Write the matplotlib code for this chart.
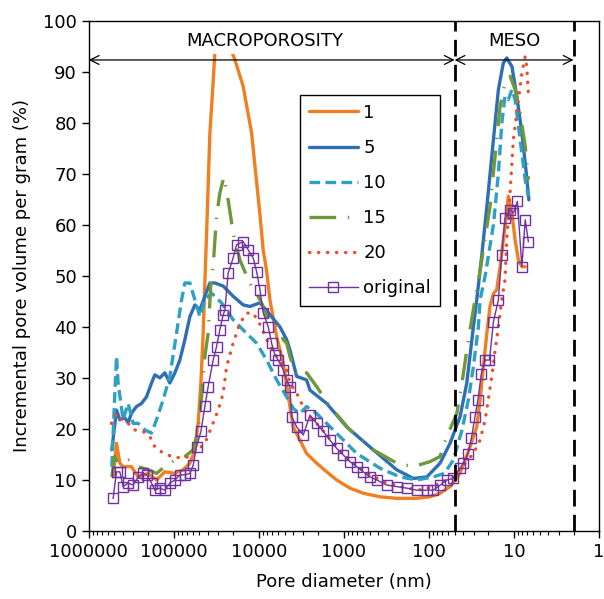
import numpy as np
import matplotlib.pyplot as plt
from matplotlib.ticker import FixedLocator, LogLocator, NullFormatter

# pore diameter (nm) and incremental pore volume (%) per sample
d1 = [517600, 472000, 431700, 395000, 314600, 263000, 200600, 159800, 127600, 97300,
      77700, 64800, 56600, 51800, 48100, 45200, 43200, 41200, 37700, 34500,
      32900, 31500, 28800, 26300, 24000, 21500, 19200, 15300, 12190, 9730,
      8900, 8120, 7425, 6190, 5180, 4320, 3950, 3290, 2750, 2095,
      1598, 1219, 850, 593, 377, 240, 140, 97.3, 74.2, 56.6,
      43.2, 32.9, 27.5, 25.1, 23.0, 20.9, 19.2, 17.5, 16.0, 14.6,
      12.8, 11.7, 10.6, 9.73, 8.9, 8.1, 7.4]
v1 = [10.6, 17.2, 13.3, 12.6, 12.6, 10.6, 11.3, 10.0, 11.6, 11.3,
      12.0, 13.3, 15.9, 21.2, 29.0, 38.8, 48.6, 58.4, 78.0, 88.0,
      94.0, 97.0, 98.5, 98.0, 96.5, 94.5, 92.4, 87.1, 78.0, 62.0,
      55.0, 51.0, 45.3, 38.1, 32.9, 24.4, 20.4, 17.8, 15.2, 13.3,
      11.6, 10.0, 8.4, 7.4, 6.7, 6.4, 6.4, 6.7, 7.4, 8.7,
      11.3, 16.5, 20.4, 25.7, 32.2, 38.8, 44.0, 46.5, 47.3, 51.8,
      59.7, 65.6, 62.3, 57.0, 53.1, 51.8, 51.8]

d5 = [536000, 472000, 431700, 377200, 344900, 314600, 274700, 239900, 209500, 182900,
      167300, 146100, 127600, 111500, 97300, 85000, 74200, 64800, 56600, 49400,
      43200, 37700, 32900, 26300, 20100, 15300, 12760, 9730, 7425, 5660,
      4720, 4320, 3600, 2750, 2510, 1598, 929, 452, 240, 153,
      106, 74.2, 56.6, 43.2, 36.0, 30.1, 27.5, 24.0, 20.9, 17.5,
      15.3, 13.4, 12.2, 10.6, 9.3, 8.1, 7.2, 6.7]
v5 = [15.9, 23.7, 21.8, 22.2, 21.2, 23.1, 24.4, 25.0, 26.3, 29.0,
      30.6, 30.0, 31.0, 29.0, 31.0, 33.5, 37.5, 42.0, 44.3, 43.3,
      46.0, 48.6, 48.6, 48.0, 46.0, 44.3, 44.0, 44.7, 42.4, 40.0,
      37.5, 35.5, 30.3, 29.6, 27.6, 25.0, 20.4, 15.9, 12.0, 10.3,
      10.6, 13.3, 17.2, 22.4, 29.0, 40.0, 45.3, 54.0, 63.6, 76.7,
      86.5, 91.7, 92.7, 91.0, 85.2, 78.0, 70.2, 64.9]

d10 = [536000, 494300, 472000, 452000, 395000, 344900, 301200, 263000, 219400, 182900,
       159800, 133600, 111500, 92900, 81200, 74200, 64800, 56600, 49400, 43200,
       36000, 27500, 20100, 15300, 10640, 8120, 6190, 4720, 3950, 3290,
       2750, 2095, 1598, 1115, 709, 377, 219, 140, 89, 66,
       51.8, 41, 34.5, 30.1, 26.3, 25.1, 21.9, 17.5, 15.3, 13.95,
       12.8, 11.7, 10.6, 9.73, 8.5, 7.4, 6.8]
v10 = [12.6, 27.0, 34.2, 29.0, 21.8, 25.0, 21.1, 21.1, 19.8, 19.2,
       21.8, 25.7, 30.3, 38.8, 45.3, 48.6, 48.6, 45.3, 42.0, 45.3,
       46.6, 44.7, 41.4, 39.4, 36.8, 33.5, 29.6, 26.3, 24.0, 23.0,
       24.4, 23.0, 21.1, 18.5, 15.2, 12.3, 10.6, 10.0, 10.6, 11.3,
       13.9, 19.8, 25.7, 32.2, 40.0, 45.3, 50.0, 60.0, 70.1, 79.9,
       85.2, 84.5, 86.5, 84.5, 76.7, 68.8, 65.6]

d15 = [536000, 494300, 452000, 344900, 263000, 200600, 159800, 127600, 97300, 74200,
       59300, 51800, 47200, 43200, 39500, 36700, 34500, 31500, 28800, 25800,
       23000, 20100, 16700, 13950, 11670, 10640, 8900, 8120, 7425, 6190,
       5180, 4720, 4320, 3950, 3600, 2750, 2095, 1461, 850, 452,
       240, 153, 97.3, 74.2, 61.9, 47.2, 41, 34.5, 28.8, 25.1,
       19.2, 16.0, 14.6, 12.8, 11.1, 9.73, 8.5, 7.4, 6.8]
v15 = [10.6, 14.6, 13.3, 13.9, 12.6, 12.0, 11.3, 12.6, 13.9, 14.6,
       15.9, 19.8, 26.3, 34.2, 38.8, 48.6, 52.0, 61.6, 66.2, 69.4,
       64.9, 58.4, 53.1, 50.0, 47.3, 46.6, 44.0, 42.0, 42.0, 40.7,
       37.5, 36.8, 34.2, 32.2, 30.3, 31.0, 28.3, 24.4, 19.8, 15.9,
       13.3, 12.6, 13.6, 14.6, 18.5, 23.0, 29.0, 37.5, 45.3, 51.0,
       63.6, 76.7, 83.2, 87.8, 89.1, 86.5, 81.9, 75.4, 68.8]

d20 = [542000, 472000, 412300, 344900, 287600, 229700, 191600, 167300, 139500, 106400,
       81200, 64800, 51800, 43200, 36000, 30100, 26300, 24000, 20100, 16700,
       13950, 11670, 9730, 8120, 6190, 4720, 4320, 3600, 2750, 1916,
       1336, 850, 541, 315, 183, 117, 74.2, 51.8, 30.1, 25.1,
       21.9, 20.1, 18.3, 16.7, 15.3, 13.95, 12.8, 12.2, 11.1, 10.2,
       8.9, 8.1, 7.4, 7.1, 6.8]
v20 = [21.1, 23.0, 21.8, 21.1, 19.8, 19.5, 18.5, 16.5, 15.5, 14.6,
       14.3, 14.6, 15.9, 17.2, 20.4, 23.7, 27.0, 32.2, 36.8, 40.7,
       42.7, 42.7, 40.5, 37.5, 34.2, 31.6, 29.0, 27.0, 23.0, 20.4,
       17.2, 13.9, 11.3, 9.4, 8.4, 8.0, 9.4, 10.6, 15.2, 17.8,
       21.8, 25.7, 30.3, 35.5, 40.0, 45.3, 49.2, 57.0, 66.9, 76.7,
       84.5, 89.7, 93.0, 91.0, 85.8]

d_orig = [517600, 472000, 431700, 395000, 344900, 301200, 263000, 229700, 209500, 182900,
          167300, 146100, 127600, 111500, 97300, 85000, 74200, 64800, 59300, 54100,
          48100, 43200, 39500, 34500, 31500, 28800, 26300, 25100, 23000, 20100,
          18300, 15300, 13360, 11670, 10640, 9730, 8900, 7770, 7090, 6480,
          5930, 5180, 4720, 4320, 4120, 3600, 3010, 2510, 2095, 1752,
          1461, 1219, 1019, 850, 709, 593, 494, 412, 315, 240,
          183, 140, 106, 89, 74.2, 61.9, 51.8, 43.2, 39.5, 35.0,
          31.8, 28.8, 26.6, 24.3, 21.9, 19.5, 17.5, 15.3, 14.0, 12.8,
          11.1, 10.2, 9.15, 8.1, 7.4, 6.8]
v_orig = [6.4, 11.6, 11.6, 8.7, 9.4, 9.0, 10.6, 11.3, 11.0, 9.4,
          8.0, 8.4, 8.0, 9.4, 10.0, 11.0, 11.0, 11.3, 12.9, 16.5,
          19.5, 24.4, 28.3, 33.5, 36.1, 39.4, 42.4, 43.3, 50.5, 53.5,
          56.1, 56.7, 55.1, 53.5, 50.8, 47.3, 42.7, 40.0, 36.8, 34.5,
          33.5, 31.6, 29.6, 28.3, 22.4, 20.4, 18.8, 22.7, 21.1, 19.5,
          17.8, 16.2, 14.9, 13.6, 12.6, 11.6, 10.6, 10.0, 9.0, 8.7,
          8.4, 8.0, 8.0, 8.0, 9.0, 10.0, 10.3, 12.3, 13.3, 15.1,
          18.2, 22.4, 25.7, 30.8, 33.5, 33.5, 41.0, 45.3, 54.1, 61.3,
          62.9, 62.3, 64.6, 51.8, 61.0, 56.7]

x_ticks = [1000000, 100000, 10000, 1000, 100, 10, 1]
macro_range = (1000000, 50)
meso_range = (50, 2)

plt.rcParams['font.family'] = 'DejaVu Sans'
plt.rcParams['font.size'] = 13

fig = plt.figure(figsize=(6.04, 5.99), dpi=100)
ax = fig.add_axes([0.147, 0.1135, 0.845, 0.852])

lw = 2.4
ax.plot(d1, v1, color='#F07F22', lw=lw, label='1', solid_capstyle='round')
ax.plot(d5, v5, color='#2F6EB5', lw=lw, label='5', solid_capstyle='round')
ax.plot(d10, v10, color='#2DA1C3', lw=lw, ls=(0, (3.2, 1.6)), label='10')
ax.plot(d15, v15, color='#6E983A', lw=lw, ls=(0, (8, 3.5, 0.4, 3.5)), label='15')
ax.plot(d20, v20, color='#F24A2C', lw=lw, ls=(0, (0.1, 2.6)),
        dash_capstyle='round', label='20')
ax.plot(d_orig, v_orig, color='#7030A0', lw=1.0, marker='s', ms=7,
        mfc='none', mec='#7030A0', mew=1.0, label='original')

for xv in (macro_range[1], meso_range[1]):
    ax.axvline(xv, color='black', lw=2.0, ls=(0, (6, 3)), zorder=4)

arrow_y = 92.3
for (xa, xb) in (macro_range, meso_range):
    ax.annotate('', xy=(xb, arrow_y), xytext=(xa, arrow_y),
                arrowprops=dict(arrowstyle='<->', lw=0.9, color='black',
                                shrinkA=0, shrinkB=0, mutation_scale=16))
ax.text(8500, 96.1, 'MACROPOROSITY', ha='center', va='center', fontsize=13,
        zorder=5, bbox=dict(boxstyle='square,pad=0.25', fc='white', ec='none'))
ax.text(10, 96.1, 'MESO', ha='center', va='center', fontsize=13, zorder=5)

ax.set_xscale('log')
ax.set_xlim(1000000, 1)
ax.set_ylim(0, 100)
ax.set_yticks(np.arange(0, 101, 10))
ax.xaxis.set_major_locator(FixedLocator(x_ticks))
ax.set_xticklabels([str(t) for t in x_ticks])
ax.xaxis.set_minor_locator(LogLocator(base=10, subs=np.arange(2, 10), numticks=20))
ax.xaxis.set_minor_formatter(NullFormatter())
ax.tick_params(which='major', direction='out', length=5, width=1, labelsize=13)
ax.tick_params(which='minor', direction='out', length=3, width=0.8)
for s in ax.spines.values():
    s.set_linewidth(1.0)

ax.set_xlabel('Pore diameter (nm)', fontsize=13, labelpad=9)
ax.set_ylabel('Incremental pore volume per gram (%)', fontsize=13, labelpad=9)

leg = ax.legend(loc='upper left', bbox_to_anchor=(0.4137, 0.855), borderaxespad=0,
                fancybox=False, edgecolor='black', framealpha=1, fontsize=13,
                handlelength=2.7, handletextpad=0.3, labelspacing=0.95,
                borderpad=0.5)
leg.get_frame().set_linewidth(1.0)

fig.savefig('out.png', dpi=100)
